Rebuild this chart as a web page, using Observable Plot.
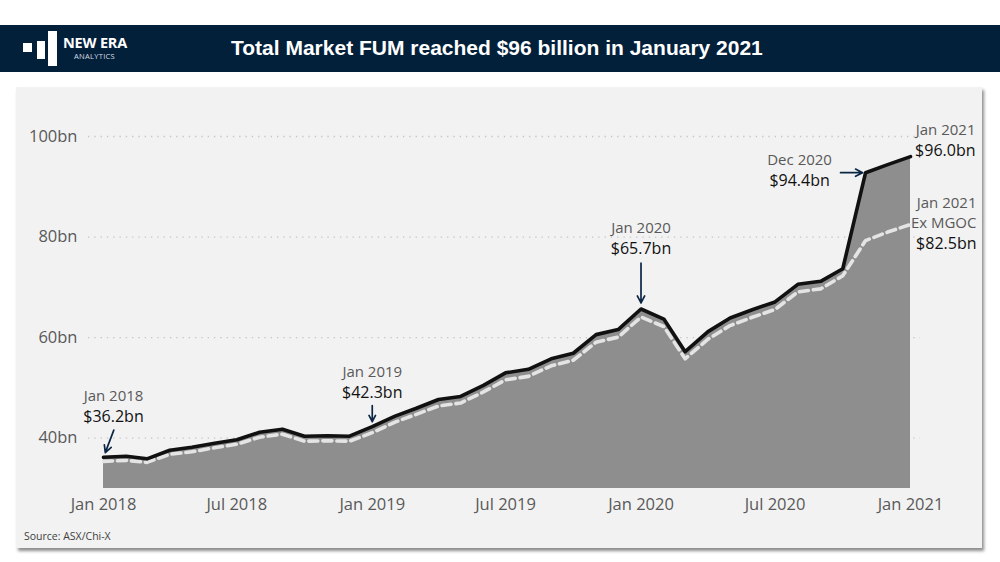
<!DOCTYPE html>
<html>
<head>
<meta charset="utf-8">
<script src="https://cdn.jsdelivr.net/npm/d3@7"></script>
<script src="https://cdn.jsdelivr.net/npm/@observablehq/plot@0.6"></script>
<style>
  html, body { margin: 0; padding: 0; }
  body { width: 1000px; height: 562px; background: #ffffff; position: relative; overflow: hidden; font-family: "Open Sans", sans-serif; }
  #header { position: absolute; left: 0; top: 25px; width: 1000px; height: 47px; background: #03203b; }
  .logo { position: absolute; background: #ffffff; }
  #brand { position: absolute; left: 63px; top: 10px; color: #fff; font-family: "Open Sans", sans-serif; font-weight: 700; font-size: 14.5px; line-height: 16px; letter-spacing: -0.2px; }
  #brand2 { position: absolute; left: 74px; top: 27px; color: #d8dde4; font-family: "Open Sans", sans-serif; font-size: 7.5px; line-height: 9px; letter-spacing: 0.3px; }
  #title { position: absolute; left: 231px; top: 10px; color: #fff; font-family: "Liberation Sans", Arial, sans-serif; font-weight: 700; font-size: 21px; line-height: 26px; white-space: nowrap; }
  #panel { position: absolute; left: 16px; top: 87px; width: 966px; height: 461px; background: #f2f2f2; box-shadow: 2px 3px 3px rgba(0,0,0,0.45); }
  #chart { position: absolute; left: 0; top: 0; }
  #source { position: absolute; left: 8px; top: 442px; font-family: "Open Sans", sans-serif; font-size: 10.5px; color: #404040; }
</style>
</head>
<body>
<div id="header">
  <div class="logo" style="left:23px;top:18px;width:9px;height:9px;"></div>
  <div class="logo" style="left:37px;top:16px;width:8px;height:18px;"></div>
  <div class="logo" style="left:48px;top:6px;width:9px;height:35px;"></div>
  <div id="brand">NEW ERA</div>
  <div id="brand2">ANALYTICS</div>
  <div id="title">Total Market FUM reached $96 billion in January 2021</div>
</div>
<div id="panel">
  <div id="chart"></div>
  <div id="source">Source: ASX/Chi-X</div>
</div>
<script>
// ---- data ($bn) ----
const months = [
  "2018-01","2018-02","2018-03","2018-04","2018-05","2018-06","2018-07","2018-08","2018-09","2018-10","2018-11","2018-12",
  "2019-01","2019-02","2019-03","2019-04","2019-05","2019-06","2019-07","2019-08","2019-09","2019-10","2019-11","2019-12",
  "2020-01","2020-02","2020-03","2020-04","2020-05","2020-06","2020-07","2020-08","2020-09","2020-10","2020-11","2020-12",
  "2021-01"
];
const totalFUM = [
  36.2, 36.4, 35.9, 37.6, 38.2, 39.0, 39.7, 41.2, 41.8, 40.4, 40.5, 40.4,
  42.3, 44.4, 45.9, 47.7, 48.3, 50.5, 53.0, 53.7, 55.8, 56.9, 60.6, 61.6,
  65.7, 63.7, 57.2, 61.2, 63.9, 65.6, 67.1, 70.6, 71.2, 73.7, 92.8, 94.4, 96.0
];
const exMGOC = [
  35.4, 35.6, 35.2, 36.8, 37.3, 38.1, 38.8, 40.2, 40.8, 39.4, 39.5, 39.4,
  41.1, 43.2, 44.7, 46.4, 47.0, 49.2, 51.6, 52.3, 54.4, 55.5, 59.1, 60.1,
  64.1, 62.2, 55.8, 59.7, 62.4, 64.1, 65.6, 69.1, 69.7, 72.3, 79.3, 81.0, 82.5
];
const xTickMonths = ["2018-01","2018-07","2019-01","2019-07","2020-01","2020-07","2021-01"];
const yTicks = [40, 60, 80, 100];
const yMin = 30, yMax = 100;

// annotation texts
const annMonths = ["2018-01","2019-01","2020-01","2020-11","2021-01"];
const annDates  = ["Jan 2018","Jan 2019","Jan 2020","Dec 2020","Jan 2021"];
const annValues = ["$36.2bn","$42.3bn","$65.7bn","$94.4bn","$96.0bn"];
const exLines   = ["Jan 2021","Ex MGOC","$82.5bn"];

// ---- build ----
const parse = d3.utcParse("%Y-%m");
const data = months.map((m, i) => ({date: parse(m), total: totalFUM[i], ex: exMGOC[i], base: yMin}));
const pt = m => data.find(d => +d.date === +parse(m));

const GRAY = "#595959", DARK = "#111111", NAVY = "#0b2545";
const FS_DATE = 15, FS_VAL = 16;

function note(month, key, rows, dx, anchor) {
  const d = [pt(month)];
  return rows.map(([t, dy, fill, size]) => Plot.text(d, {
    x: "date", y: key, text: () => t, dx, dy, textAnchor: anchor, lineAnchor: "bottom",
    fill, fontSize: size, fontFamily: "Open Sans"
  }));
}
function pointer(month, key, dDays, dVal, inset) {
  const d = [pt(month)];
  return Plot.arrow(d, {
    x1: p => d3.utcDay.offset(p.date, dDays), y1: p => p[key] + dVal,
    x2: "date", y2: key, insetEnd: inset,
    stroke: NAVY, strokeWidth: 1.7, headLength: 7, headAngle: 55
  });
}

const chart = Plot.plot({
  width: 966,
  height: 461,
  marginLeft: 87,
  marginRight: 72,
  marginTop: 49,
  marginBottom: 60,
  style: {background: "transparent", fontFamily: "Open Sans", fontSize: "16.5px", color: GRAY, overflow: "visible"},
  x: {
    type: "utc",
    domain: [parse(months[0]), parse(months[months.length - 1])],
    ticks: xTickMonths.map(parse),
    tickFormat: d3.utcFormat("%b %Y"),
    tickSize: 0, tickPadding: 10, label: null
  },
  y: {
    domain: [yMin, yMax],
    ticks: yTicks,
    tickFormat: d => d + "bn",
    tickSize: 0, tickPadding: 26, label: null
  },
  marks: [
    Plot.ruleY(yTicks, {stroke: "#c4c4c4", strokeWidth: 1.3, strokeDasharray: "1.3,5", insetLeft: -15, insetRight: -10}),
    Plot.areaY(data, {x: "date", y1: "base", y2: "total", fill: "#8e8e8e"}),
    Plot.lineY(data, {x: "date", y: "ex", stroke: "#e4e4e4", strokeWidth: 3.6, strokeDasharray: "9,5"}),
    Plot.lineY(data, {x: "date", y: "total", stroke: DARK, strokeWidth: 3.6}),
    // annotations
    ...note(annMonths[0], "total", [[annDates[0], -56, GRAY, FS_DATE], [annValues[0], -35, DARK, FS_VAL]], 10, "middle"),
    ...note(annMonths[1], "total", [[annDates[1], -50, GRAY, FS_DATE], [annValues[1], -29, DARK, FS_VAL]], 0, "middle"),
    ...note(annMonths[2], "total", [[annDates[2], -76, GRAY, FS_DATE], [annValues[2], -55, DARK, FS_VAL]], 0, "middle"),
    ...note(annMonths[3], "total", [[annDates[3], -8, GRAY, FS_DATE], [annValues[3], 13, DARK, FS_VAL]], -66, "middle"),
    ...note(annMonths[4], "total", [[annDates[4], -22, GRAY, FS_DATE], [annValues[4], -1, DARK, FS_VAL]], 65, "end"),
    ...note(annMonths[4], "ex", [[exLines[0], -17, GRAY, FS_DATE], [exLines[1], 3, GRAY, FS_DATE], [exLines[2], 24, DARK, FS_VAL]], 66, "end"),
    pointer(annMonths[0], "total", 14, 5.4, 5),
    pointer(annMonths[1], "total", 0, 4.2, 5),
    pointer(annMonths[2], "total", 0, 9.1, 6),
    pointer(annMonths[3], "total", -34, 0, 3)
  ]
});
document.getElementById("chart").appendChild(chart);
</script>
</body>
</html>
